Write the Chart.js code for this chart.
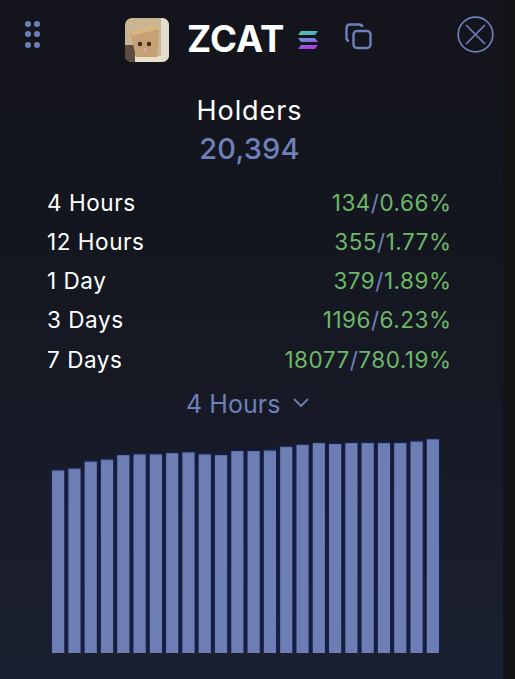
<!DOCTYPE html>
<html>
<head>
<meta charset="utf-8">
<title>ZCAT Holders</title>
<script src="https://cdn.jsdelivr.net/npm/chart.js@4"></script>
<style>
  html, body { margin: 0; padding: 0; }
  body {
    width: 515px; height: 679px; overflow: hidden; position: relative;
    background: #141416;
    font-family: Inter, "Noto Sans", sans-serif;
  }
  #panel {
    position: absolute; left: 0; top: 0; width: 503px; height: 679px;
    background: linear-gradient(#13141c 0%, #14161f 35%, #1b2030 100%);
  }
  .txt { position: absolute; white-space: nowrap; line-height: 1; }
  .center { left: 0; width: 499px; text-align: center; }
  .label { left: 47px; font-size: 22.5px; letter-spacing: 0.55px; color: #fff; }
  .value { right: 63.5px; font-size: 22.5px; letter-spacing: 0.5px; color: #6cb868; }
  .value i { font-style: normal; color: #6e80b9; }
  svg { position: absolute; }
  #chartBox { position: absolute; left: 50px; top: 423px; width: 391px; height: 229.5px; }
</style>
</head>
<body>
<div id="panel"></div>

<svg style="left:22px;top:20px" width="22" height="30" viewBox="0 0 22 30" fill="#6e80b9">
  <circle cx="6" cy="4" r="3"/><circle cx="15" cy="4" r="3"/>
  <circle cx="6" cy="14" r="3"/><circle cx="15" cy="14" r="3"/>
  <circle cx="6" cy="25" r="3"/><circle cx="15" cy="25" r="3"/>
</svg>

<svg style="left:125px;top:18px" width="44" height="44" viewBox="0 0 44 44">
  <defs><clipPath id="av"><rect width="44" height="44" rx="7"/></clipPath></defs>
  <g clip-path="url(#av)">
    <rect width="44" height="44" fill="#c9b592"/>
    <rect x="36" width="8" height="44" fill="#e4dccb"/>
    <rect y="27" width="10" height="17" fill="#5d4d3e"/>
    <rect x="10" y="38" width="26" height="6" fill="#e8e0cc"/>
    <path d="M5 13 L30 8 L34 13 L32 39 L11 39 Z" fill="#c6a174"/>
    <path d="M5 13 L30 6 L34 11 L8 18 Z" fill="#d6b484"/>
    <circle cx="15" cy="26" r="2.2" fill="#3a2c22"/><circle cx="24" cy="26" r="2.2" fill="#3a2c22"/>
    <ellipse cx="20" cy="32" rx="1.5" ry="2" fill="#dcaea6"/>
  </g>
</svg>

<div class="txt" style="left:187px;top:21px;font-size:36.5px;font-weight:700;color:#fff">ZCAT</div>

<svg style="left:297px;top:30px" width="22" height="20" viewBox="0 0 22 20">
  <defs><linearGradient id="sol" x1="0" y1="0" x2="0.25" y2="1">
    <stop offset="0" stop-color="#3ed6a8"/><stop offset="0.5" stop-color="#6a8fd0"/><stop offset="1" stop-color="#a83ee8"/>
  </linearGradient></defs>
  <path d="M4 1 H21 L18 5 H1 Z M1 8 H18 L21 12 H4 Z M4 15 H21 L18 19 H1 Z" fill="url(#sol)"/>
</svg>

<svg style="left:344px;top:22px" width="30" height="30" viewBox="0 0 30 30" fill="none" stroke="#6e80b9" stroke-width="2.4">
  <rect x="9.5" y="9" width="17" height="17" rx="3.5"/>
  <path d="M5 19 Q2.5 18.5 2.5 16 V6 Q2.5 2.5 6 2.5 H15 Q18 2.5 18.5 5"/>
</svg>

<svg style="left:457px;top:16px" width="37" height="37" viewBox="0 0 37 37" fill="none" stroke="#6e80b9" stroke-width="1.7">
  <circle cx="18.5" cy="18.5" r="17.3"/>
  <path d="M9 9 L28 28 M28 9 L9 28"/>
</svg>

<div class="txt center" style="top:97px;font-size:27px;letter-spacing:0.9px;color:#fff">Holders</div>
<div id="total" class="txt center" style="top:134px;font-size:29px;font-weight:500;letter-spacing:0.2px;color:#6e80b9"></div>
<div id="rows"></div>
<div class="txt" style="left:186px;top:392px;font-size:25px;letter-spacing:0.05px;color:#6e80b9">4 Hours</div>
<svg style="left:291px;top:396px" width="20" height="14" viewBox="0 0 20 14" fill="none" stroke="#6e80b9" stroke-width="1.9">
  <path d="M3 3 L10 10 L17 3"/>
</svg>

<div id="chartBox"><canvas id="holdersChart"></canvas></div>

<script>
const totalHolders = "20,394";

const periods = ["4 Hours", "12 Hours", "1 Day", "3 Days", "7 Days"];
const changes = ["134", "355", "379", "1196", "18077"];
const percents = ["0.66%", "1.77%", "1.89%", "6.23%", "780.19%"];

// one bar per time step
const steps = ["1","2","3","4","5","6","7","8","9","10","11","12","13","14","15","16","17","18","19","20","21","22","23","24"];
const holders = [20257, 20264, 20296, 20305, 20324, 20328, 20328, 20333, 20337, 20328, 20324, 20342,
                 20342, 20345, 20361, 20370, 20378, 20373, 20378, 20378, 20378, 20378, 20385, 20394];

document.getElementById("total").textContent = totalHolders;

// Tabla de periodos
const rows = document.getElementById("rows");
const rowTops = [192, 231, 270, 309, 349];
periods.forEach((p, i) => {
  rows.innerHTML += `
    <div class="txt label" style="top:${rowTops[i]}px">${p}</div>
    <div class="txt value" style="top:${rowTops[i]}px">${changes[i]}<i>/</i>${percents[i]}</div>`;
});

// Gráfico de barras
const ctx = document.getElementById("holdersChart").getContext("2d");
new Chart(ctx, {
  type: "bar",
  data: {
    labels: steps,
    datasets: [{
      label: "Holders",
      data: holders,
      backgroundColor: "#6d7eb5",
      borderColor: "#14204f",
      borderWidth: 1.5,
      barPercentage: 0.93,
      categoryPercentage: 1
    }]
  },
  options: {
    responsive: true,
    maintainAspectRatio: false,
    animation: false,
    layout: { padding: 0 },
    plugins: { legend: { display: false }, tooltip: { enabled: false } },
    scales: {
      x: { display: false },
      y: { display: false, min: 19440, max: 20460 }
    }
  }
});
</script>
</body>
</html>
